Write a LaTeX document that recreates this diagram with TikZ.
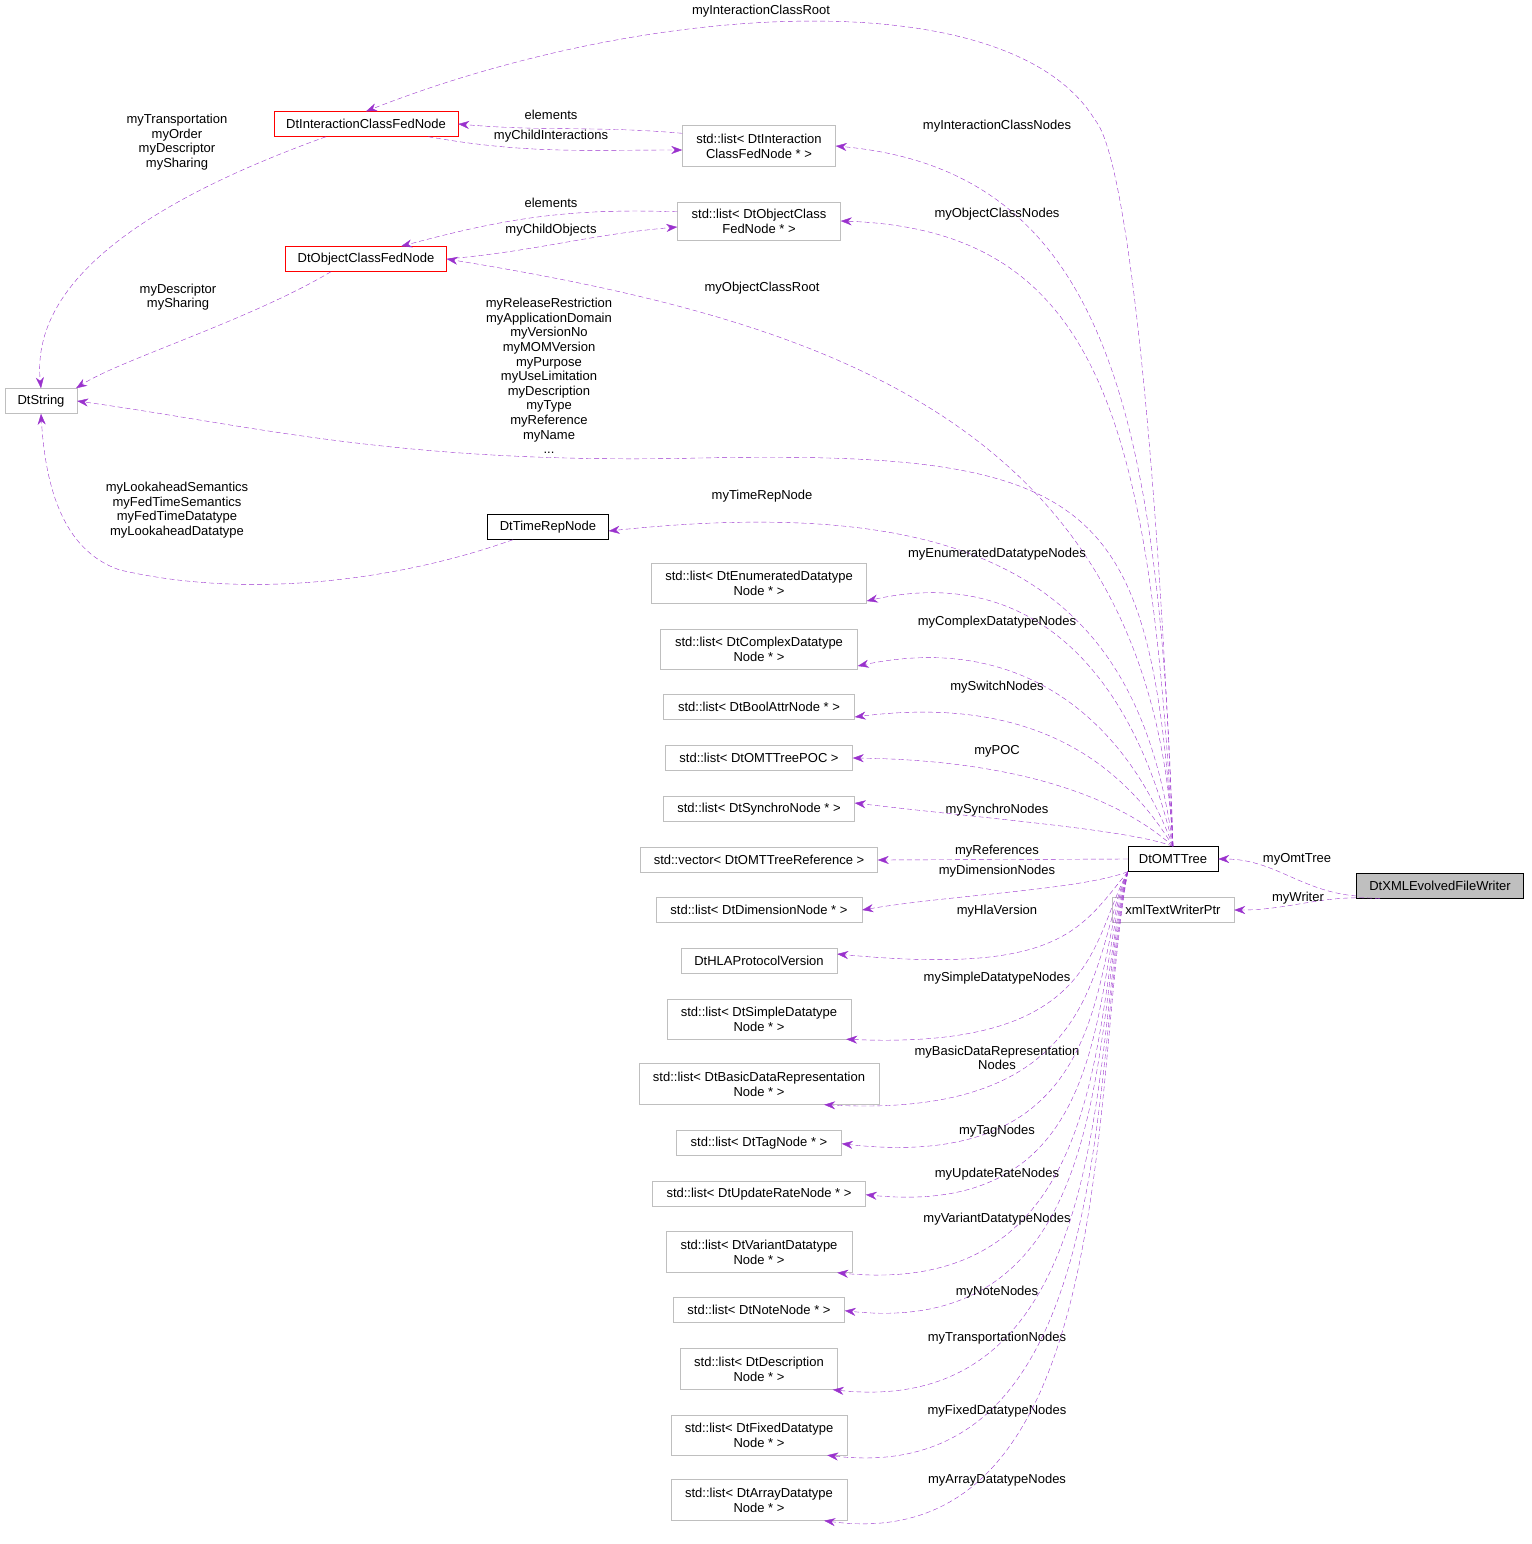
\documentclass[tikz,border=0pt]{standalone}
\usepackage{fontspec}
\setmainfont{Liberation Sans}
\usetikzlibrary{arrows.meta}
\definecolor{edgecol}{HTML}{9A32CD}
\definecolor{boxgray}{HTML}{BFBFBF}
\tikzset{
  box/.style={draw=black, minimum height=25pt, inner sep=2pt, align=center, font=\fontsize{13}{15}\selectfont},
  gbox/.style={box, draw=boxgray},
  rbox/.style={box, draw=red},
  ref/.style={draw=edgecol, dashed, dash pattern=on 5pt off 3pt, -{Stealth[length=11pt,width=8pt]}},
  lbl/.style={align=center, font=\fontsize{13}{14.6}\selectfont, inner sep=0pt}
}
\begin{document}
\begin{tikzpicture}[x=1pt, y=-1pt]
    \useasboundingbox (0,0) rectangle (1531,1544);

    % Main classes
    \node[box, fill=boxgray, minimum width=167pt] (writer) at (1440,886) {DtXMLEvolvedFileWriter};
    \node[box, minimum width=90pt] (omt) at (1173,859) {DtOMTTree};
    \node[gbox, minimum width=122pt] (xml) at (1173,910) {xmlTextWriterPtr};

    \node[rbox, minimum width=184pt] (icfn) at (366,124) {DtInteractionClassFedNode};
    \node[rbox, minimum width=161pt] (ocfn) at (366,259) {DtObjectClassFedNode};
    \node[gbox, minimum width=72pt] (str) at (41,401) {DtString};
    \node[box, minimum width=121pt] (trn) at (548,527) {DtTimeRepNode};

    \node[gbox, minimum width=153pt, minimum height=41pt] (licfn) at (759,146) {std::list< DtInteraction\\ClassFedNode * >};
    \node[gbox, minimum width=163pt, minimum height=38pt] (locfn) at (759,221) {std::list< DtObjectClass\\FedNode * >};

    % Lists
    \node[gbox, minimum width=215pt, minimum height=40pt] (lenum) at (759,583) {std::list< DtEnumeratedDatatype\\Node * >};
    \node[gbox, minimum width=197pt, minimum height=40pt] (lcomplex) at (759,649) {std::list< DtComplexDatatype\\Node * >};
    \node[gbox, minimum width=191pt] (lbool) at (759,707) {std::list< DtBoolAttrNode * >};
    \node[gbox, minimum width=187pt] (lpoc) at (759,758) {std::list< DtOMTTreePOC >};
    \node[gbox, minimum width=191pt] (lsync) at (759,809) {std::list< DtSynchroNode * >};
    \node[gbox, minimum width=237pt] (vref) at (759,860) {std::vector< DtOMTTreeReference >};
    \node[gbox, minimum width=206pt] (ldim) at (759,910) {std::list< DtDimensionNode * >};
    \node[gbox, minimum width=156pt] (hla) at (759,961) {DtHLAProtocolVersion};
    \node[gbox, minimum width=184pt, minimum height=40pt] (lsimple) at (759,1019) {std::list< DtSimpleDatatype\\Node * >};
    \node[gbox, minimum width=240pt, minimum height=41pt] (lbasic) at (759,1084) {std::list< DtBasicDataRepresentation\\Node * >};
    \node[gbox, minimum width=165pt] (ltag) at (759,1143) {std::list< DtTagNode * >};
    \node[gbox, minimum width=213pt] (lupd) at (759,1194) {std::list< DtUpdateRateNode * >};
    \node[gbox, minimum width=186pt, minimum height=41pt] (lvar) at (759,1252) {std::list< DtVariantDatatype\\Node * >};
    \node[gbox, minimum width=171pt] (lnote) at (759,1310) {std::list< DtNoteNode * >};
    \node[gbox, minimum width=157pt, minimum height=41pt] (ldesc) at (759,1369) {std::list< DtDescription\\Node * >};
    \node[gbox, minimum width=176pt, minimum height=40pt] (lfixed) at (759,1435) {std::list< DtFixedDatatype\\Node * >};
    \node[gbox, minimum width=176pt, minimum height=41pt] (larray) at (759,1500) {std::list< DtArrayDatatype\\Node * >};

    % Writer edges
    \draw[ref] ([yshift=-10pt]writer.west) to[out=175,in=0] (omt.east);
    \node[lbl] (lomt) at (1297,859) {myOmtTree};
    \draw[ref] ([xshift=-60pt]writer.south) to[out=175,in=0] (xml.east);
    \node[lbl] (lwri) at (1298,898) {myWriter};

    % Edges above the tree
    \draw[ref] (omt.north) .. controls (1160,500) and (1130,160) .. (1095,120)
        .. controls (1010,-20) and (650,0) .. (icfn.north);
    \node[lbl] (l1) at (761,11) {myInteractionClassRoot};
    \draw[ref] (omt.north) .. controls (1160,400) and (1100,170) .. (licfn.east);
    \node[lbl] (l2) at (997,126) {myInteractionClassNodes};
    \draw[ref] (omt.north) .. controls (1150,420) and (1100,230) .. (locfn.east);
    \node[lbl] (l3) at (997,214) {myObjectClassNodes};
    \draw[ref] (omt.north) .. controls (1150,420) and (820,320) .. (ocfn.east);
    \node[lbl] (l4) at (762,288) {myObjectClassRoot};
    \draw[ref] (omt.north) .. controls (1150,500) and (1100,450) .. (700,458)
        .. controls (400,465) and (250,425) .. (str.east);
    \node[lbl] (l5) at (549,376) {myReleaseRestriction\\myApplicationDomain\\myVersionNo\\myMOMVersion\\myPurpose\\myUseLimitation\\myDescription\\myType\\myReference\\myName\\...};
    \draw[ref] (omt.north) .. controls (1140,600) and (1000,490) .. ([yshift=-4pt]trn.east);
    \node[lbl] (l6) at (762,496) {myTimeRepNode};
    \draw[ref] (omt.north) .. controls (1140,700) and (1050,560) .. ([yshift=-18pt]lenum.east);
    \node[lbl] (l7) at (997,554) {myEnumeratedDatatypeNodes};
    \draw[ref] (omt.north) .. controls (1130,730) and (1030,630) .. ([yshift=-17pt]lcomplex.east);
    \node[lbl] (l8) at (997,622) {myComplexDatatypeNodes};
    \draw[ref] (omt.north) .. controls (1120,760) and (1030,695) .. ([yshift=-10pt]lbool.east);
    \node[lbl] (l9) at (997,687) {mySwitchNodes};
    \draw[ref] (omt.north) .. controls (1110,790) and (1000,760) .. (lpoc.east);
    \node[lbl] (l10) at (997,751) {myPOC};
    \draw[ref] (omt.north) .. controls (1130,830) and (1000,820) .. ([yshift=6pt]lsync.east);
    \node[lbl] (l11) at (997,810) {mySynchroNodes};
    \draw[ref] (omt.west) -- (vref.east);
    \node[lbl] (l12) at (997,851) {myReferences};

    % Edges below the tree
    \draw[ref] (omt.south west) .. controls (1080,890) and (950,895) .. (ldim.east);
    \node[lbl] (l13) at (997,871) {myDimensionNodes};
    \draw[ref] (omt.south west) .. controls (1080,930) and (1060,975) .. ([yshift=7pt]hla.east);
    \node[lbl] (l14) at (997,911) {myHlaVersion};
    \draw[ref] (omt.south west) .. controls (1090,940) and (1100,1050) .. ([xshift=-5pt]lsimple.south east);
    \node[lbl] (l15) at (997,978) {mySimpleDatatypeNodes};
    \draw[ref] (omt.south west) .. controls (1090,950) and (1110,1120) .. ([xshift=-55pt]lbasic.south east);
    \node[lbl] (l16) at (997,1058) {myBasicDataRepresentation\\Nodes};
    \draw[ref] (omt.south west) .. controls (1090,960) and (1120,1175) .. ([yshift=12pt]ltag.south east);
    \node[lbl] (l17) at (997,1131) {myTagNodes};
    \draw[ref] (omt.south west) .. controls (1090,980) and (1120,1220) .. ([yshift=12pt]lupd.south east);
    \node[lbl] (l18) at (997,1174) {myUpdateRateNodes};
    \draw[ref] (omt.south west) .. controls (1090,1000) and (1120,1300) .. ([xshift=-15pt]lvar.south east);
    \node[lbl] (l19) at (997,1219) {myVariantDatatypeNodes};
    \draw[ref] (omt.south west) .. controls (1090,1020) and (1120,1340) .. ([yshift=12pt]lnote.south east);
    \node[lbl] (l20) at (997,1292) {myNoteNodes};
    \draw[ref] (omt.south west) .. controls (1090,1040) and (1120,1420) .. ([xshift=-5pt]ldesc.south east);
    \node[lbl] (l21) at (997,1338) {myTransportationNodes};
    \draw[ref] (omt.south west) .. controls (1090,1060) and (1120,1490) .. ([xshift=-20pt]lfixed.south east);
    \node[lbl] (l22) at (997,1411) {myFixedDatatypeNodes};
    \draw[ref] (omt.south west) .. controls (1090,1080) and (1120,1560) .. ([xshift=-23pt]larray.south east);
    \node[lbl] (l23) at (997,1480) {myArrayDatatypeNodes};

    % Edges among the fed nodes
    \draw[ref] ([yshift=-8pt]licfn.north west) to[out=175,in=-5] (icfn.east);
    \node[lbl] (l24) at (551,115) {elements};
    \draw[ref] ([xshift=-30pt]icfn.south east) to[out=-10,in=180] ([yshift=-4pt]licfn.west);
    \node[lbl] (l25) at (551,136) {myChildInteractions};
    \draw[ref] ([yshift=-10pt]locfn.north west) to[out=178,in=15] ([xshift=35pt]ocfn.north);
    \node[lbl] (l26) at (551,203) {elements};
    \draw[ref] (ocfn.east) to[out=5,in=185] ([yshift=-6pt]locfn.west);
    \node[lbl] (l27) at (551,230) {myChildObjects};

    % Edges to DtString
    \draw[ref] ([xshift=-40pt]icfn.south) .. controls (150,200) and (30,280) .. (str.north);
    \node[lbl] (l28) at (177,142) {myTransportation\\myOrder\\myDescriptor\\mySharing};
    \draw[ref] ([xshift=-35pt]ocfn.south) .. controls (250,320) and (120,360) .. ([xshift=35pt]str.north);
    \node[lbl] (l29) at (178,297) {myDescriptor\\mySharing};
    \draw[ref] ([xshift=-35pt]trn.south) .. controls (400,580) and (250,600) .. (120,570)
        .. controls (60,550) and (45,480) .. (str.south);
    \node[lbl] (l30) at (177,510) {myLookaheadSemantics\\myFedTimeSemantics\\myFedTimeDatatype\\myLookaheadDatatype};
\end{tikzpicture}
\end{document}
